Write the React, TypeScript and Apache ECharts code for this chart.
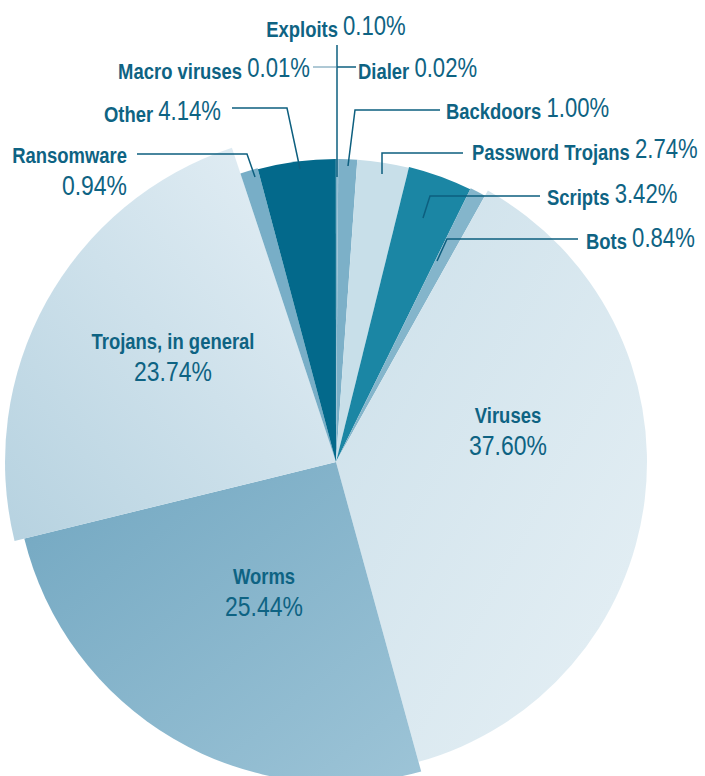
import React, { useEffect, useRef } from 'react';
import * as echarts from 'echarts';

// ---- data ----
const categories = [
  'Exploits',
  'Dialer',
  'Backdoors',
  'Password Trojans',
  'Scripts',
  'Bots',
  'Viruses',
  'Worms',
  'Trojans, in general',
  'Ransomware',
  'Other',
  'Macro viruses',
];
const shares = [0.1, 0.02, 1.0, 2.74, 3.42, 0.84, 37.6, 25.44, 23.74, 0.94, 4.14, 0.01];

// ---- styles ----
const FONT = '"Liberation Sans", Arial, sans-serif';
const NARROW = 0.82; // horizontal squeeze to mimic a condensed face
const TEXT = '#0e6383';
const LINE = '#0d5f7f';
const CENTER = [336, 462];

const sliceRadius: Record<string, number> = {
  Exploits: 303,
  Dialer: 303,
  Backdoors: 303,
  'Password Trojans': 303,
  Scripts: 304,
  Bots: 305,
  Viruses: 311,
  Worms: 321,
  'Trojans, in general': 331,
  Ransomware: 304,
  Other: 303,
  'Macro viruses': 303,
};

const grad = (x: number, y: number, x2: number, y2: number, a: string, b: string) => ({
  type: 'linear',
  x,
  y,
  x2,
  y2,
  colorStops: [
    { offset: 0, color: a },
    { offset: 1, color: b },
  ],
});

const sliceColor: Record<string, any> = {
  Exploits: '#7cb0c8',
  Dialer: '#7cb0c8',
  Backdoors: '#7cb0c8',
  'Password Trojans': '#c8dfe9',
  Scripts: '#1b86a4',
  Bots: '#84b5cb',
  Viruses: grad(0, 0, 1, 1, '#cce0ea', '#e6f0f5'),
  Worms: grad(0, 0, 1, 1, '#72a7c1', '#9dc4d7'),
  'Trojans, in general': grad(0, 1, 1, 0, '#b6d2e0', '#e6f0f6'),
  Ransomware: '#78aec7',
  Other: '#03698b',
  'Macro viruses': '#03698b',
};

type Lay = {
  x: number;
  y: number;
  align: 'left' | 'right' | 'center';
  kind: 'inline' | 'stack';
  line?: number[][];
  lineColor?: string;
  lineWidth?: number;
};

const labelPlace: Record<string, Lay> = {
  Exploits: { x: 336, y: 26, align: 'center', kind: 'inline', line: [[337, 177], [337, 45]] },
  Dialer: { x: 358, y: 68, align: 'left', kind: 'inline', line: [[337, 67], [356, 67]] },
  Backdoors: { x: 446, y: 108, align: 'left', kind: 'inline', line: [[348, 166], [355, 110], [440, 110]] },
  'Password Trojans': { x: 472, y: 149, align: 'left', kind: 'inline', line: [[382, 174], [382, 153], [463, 153]] },
  Scripts: { x: 547, y: 194, align: 'left', kind: 'inline', line: [[423, 218], [430, 196], [540, 196]] },
  Bots: { x: 586, y: 238, align: 'left', kind: 'inline', line: [[437, 261], [447, 239], [578, 239]] },
  Viruses: { x: 508, y: 430, align: 'center', kind: 'stack' },
  Worms: { x: 264, y: 591, align: 'center', kind: 'stack' },
  'Trojans, in general': { x: 173, y: 356, align: 'center', kind: 'stack' },
  Ransomware: { x: 127, y: 170, align: 'right', kind: 'stack', line: [[255, 177], [247, 154], [137, 154]] },
  Other: { x: 221, y: 111, align: 'right', kind: 'inline', line: [[300, 169], [287, 108], [232, 108]] },
  'Macro viruses': {
    x: 310,
    y: 68,
    align: 'right',
    kind: 'inline',
    line: [[336, 67], [313, 67]],
    lineColor: '#5e92ab',
    lineWidth: 1,
  },
};

const fmt = (v: number) => v.toFixed(2) + '%';

export default function App() {
  const ref = useRef<HTMLDivElement>(null);

  useEffect(() => {
    if (!ref.current) return;
    const chart = echarts.init(ref.current, undefined, { renderer: 'svg' });

    const rich = {
      n1: { fontFamily: FONT, fontWeight: 'bold', fontSize: 22.5, fill: TEXT, lineHeight: 24, verticalAlign: 'bottom' },
      v1: { fontFamily: FONT, fontSize: 27, fill: TEXT, lineHeight: 28 },
      n2: { fontFamily: FONT, fontWeight: 'bold', fontSize: 22.5, fill: TEXT, lineHeight: 30 },
      v2: { fontFamily: FONT, fontSize: 28, fill: TEXT, lineHeight: 30 },
    };

    // one pie per category, so each slice can carry its own radius
    const series = categories.map((focus, si) => ({
      type: 'pie',
      name: focus,
      center: CENTER,
      radius: [0, sliceRadius[focus]],
      startAngle: 90,
      clockwise: true,
      avoidLabelOverlap: false,
      silent: true,
      z: 2 + si,
      emphasis: { disabled: true },
      label: { show: false },
      labelLine: { show: false },
      data: categories.map((name, i) => ({
        name,
        value: shares[i],
        itemStyle:
          i === si
            ? { color: sliceColor[name], borderWidth: 0 }
            : { color: 'rgba(0,0,0,0)', borderWidth: 0 },
      })),
    }));

    const graphics: any[] = [];
    categories.forEach((name, i) => {
      const lay = labelPlace[name];
      const text =
        lay.kind === 'inline'
          ? `{n1|${name}} {v1|${fmt(shares[i])}}`
          : `{n2|${name}}\n{v2|${fmt(shares[i])}}`;
      if (lay.line) {
        graphics.push({
          type: 'polyline',
          z: 90,
          silent: true,
          shape: { points: lay.line },
          style: { stroke: lay.lineColor || LINE, lineWidth: lay.lineWidth || 1.5, fill: 'none' },
        });
      }
      graphics.push({
        type: 'text',
        z: 100,
        silent: true,
        x: lay.x,
        y: lay.y,
        scaleX: NARROW,
        style: {
          text,
          rich,
          align: lay.align,
          verticalAlign: 'middle',
          fontFamily: FONT,
          fontSize: 22.5,
          lineHeight: 24,
          fill: TEXT,
        },
      });
    });

    chart.setOption({
      animation: false,
      backgroundColor: '#ffffff',
      series,
      graphic: { elements: graphics },
    });

    return () => chart.dispose();
  }, []);

  return (
    <div
      ref={ref}
      style={{ position: 'absolute', left: 0, top: 0, width: 705, height: 776 }}
    />
  );
}
